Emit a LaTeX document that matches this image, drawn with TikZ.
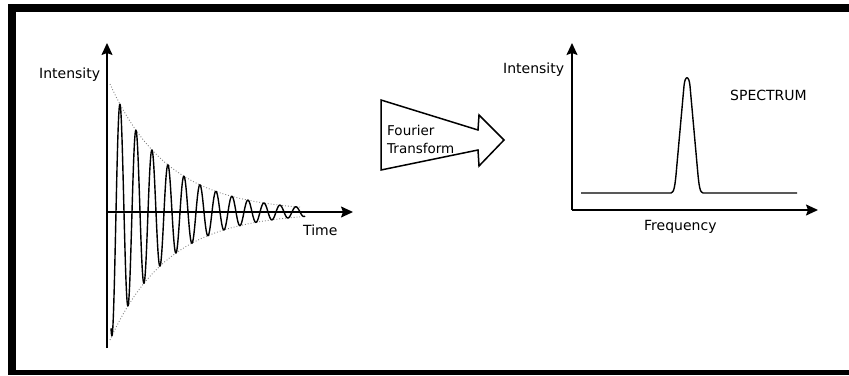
\documentclass[tikz,border=0pt]{standalone}
\usepackage{fontspec}
\setmainfont{DejaVu Sans}
\usetikzlibrary{arrows.meta}
\begin{document}
\begin{tikzpicture}[x=1pt,y=-1pt,
  axis/.style={line width=1.6pt, -{Stealth[length=12pt,width=11pt,inset=2pt]}},
  lbl/.style={font=\fontsize{14}{16}\selectfont, inner sep=0pt, anchor=base west},
  ftlbl/.style={font=\fontsize{13.5}{16}\selectfont, inner sep=0pt, anchor=base west},
  env/.style={gray, line width=0.9pt, dash pattern=on 0.9pt off 2pt},
  sig/.style={line width=1.4pt, line join=round}]
\useasboundingbox (0,0) rectangle (849,375);
% frame
\fill (8,4) rectangle (849,12);
\fill (8,4) rectangle (16,375);
\fill (8,370) rectangle (849,375);
% left plot
\coordinate (o1) at (107,212);
\coordinate (y1b) at (107,348);
\coordinate (y1t) at (107,43);
\coordinate (x1e) at (353,212);
\draw[env] plot[domain=110:300, samples=60] ({\x},{212-128*exp(-(\x-110)/58)});
\draw[env] plot[domain=110:300, samples=60] ({\x},{212+128*exp(-(\x-110)/58)});
\draw[sig] plot[domain=111:305, samples=800] ({\x},{212+128*exp(-(\x-110)/58)*cos(22.5*(\x-112))});
\draw[axis] (y1b) -- (y1t);
\draw[axis] (o1) -- (x1e);
\node[lbl] (int1) at (39,78) {Intensity};
\node[lbl] (time) at (303,235) {Time};
% Fourier transform arrow
\draw[line width=1.5pt, line join=miter] (381,100) -- (478,130) -- (479,115) -- (504,140) -- (479,166) -- (478,150) -- (381,170) -- cycle;
\node[ftlbl] (ft1) at (387,135) {Fourier};
\node[ftlbl] (ft2) at (387,153) {Transform};
% right plot
\coordinate (o2) at (572,210);
\coordinate (y2t) at (572,43);
\coordinate (x2e) at (818,210);
\draw[sig] (581,193) -- (671,193) .. controls (674,193) and (675,185) .. (676,175) -- (684,86)
  .. controls (685,75) and (689,75) .. (690,86) -- (698,175)
  .. controls (699,185) and (700,193) .. (703,193) -- (797,193);
\draw[axis] (o2) -- (y2t);
\draw[axis] (o2) -- (x2e);
\node[lbl] (int2) at (503,73) {Intensity};
\node[lbl] (spec) at (730,100) {SPECTRUM};
\node[lbl] (freq) at (644,230) {Frequency};
\end{tikzpicture}
\end{document}
